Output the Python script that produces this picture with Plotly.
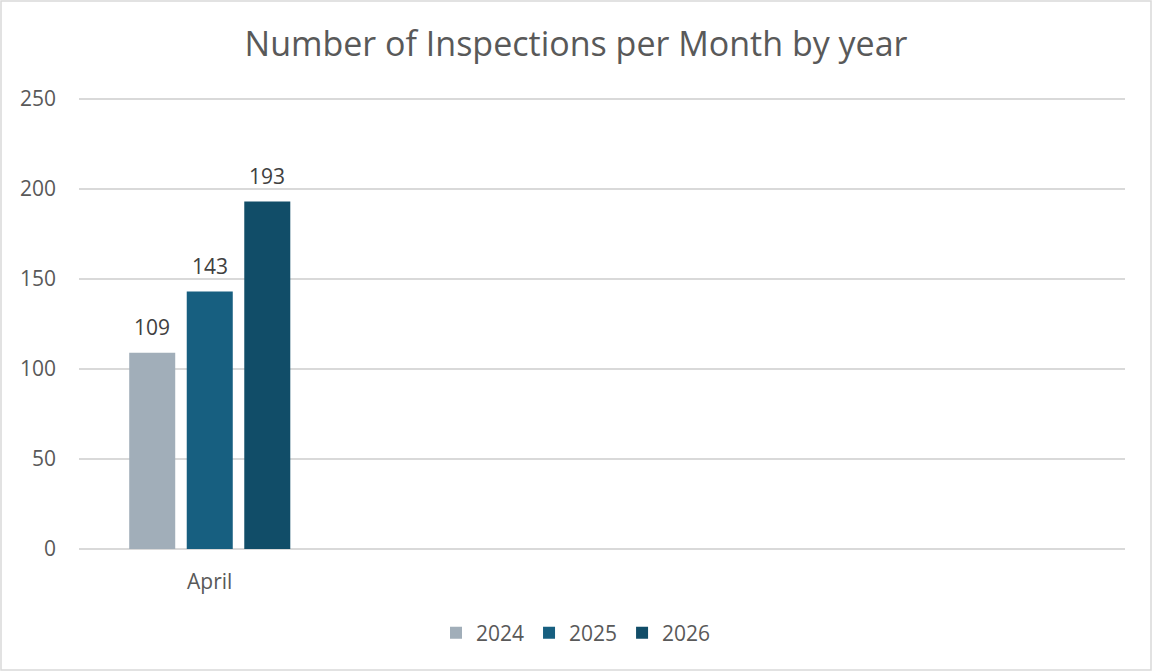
import plotly.graph_objects as go

categories = ["April"]
years = ["2024", "2025", "2026"]
values_2024 = [109]
values_2025 = [143]
values_2026 = [193]
colors = ["#A1AEB9", "#175F80", "#114D68"]
y_ticks = [0, 50, 100, 150, 200, 250]

FONT = "Open Sans, Roboto, DejaVu Sans, sans-serif"

W, H = 1152, 671
l, r, t, b = 79, 27, 97, 122
pw, ph = W - l - r, H - t - b
ymax = 250 + 2 / 1.8
slot_px = 57.5

fig = go.Figure()
annotations = []
for i, (name, vals, col) in enumerate(zip(years, [values_2024, values_2025, values_2026], colors)):
    fig.add_trace(go.Bar(
        x=categories, y=vals, name=name,
        marker=dict(color=col, line=dict(width=0)),
    ))
    for c, v in zip(categories, vals):
        annotations.append(dict(
            x=c, y=v, xref="x", yref="y", text=str(v), showarrow=False,
            xshift=(i - 1) * slot_px, yshift=26, yanchor="middle",
            font=dict(size=21, color="#404040", family=FONT)))

fig.update_layout(
    width=W, height=H,
    margin=dict(l=l, r=r, t=t, b=b),
    paper_bgcolor="white", plot_bgcolor="white",
    barmode="group", bargap=0.34, bargroupgap=0.2,
    title=dict(text="Number of Inspections per Month by year",
               x=0.5, xanchor="center", y=1 - 44 / H, yanchor="middle",
               font=dict(size=34, color="#595959", family=FONT)),
    xaxis=dict(type="category", range=[-0.5, 3.5], showgrid=False,
               showline=False, ticks="", zeroline=False, ticklabelstandoff=18,
               tickfont=dict(size=21, color="#595959", family=FONT)),
    yaxis=dict(range=[0, ymax], tickvals=y_ticks, showgrid=True,
               gridcolor="#D9D9D9", gridwidth=1.5, zeroline=True,
               zerolinecolor="#D9D9D9", zerolinewidth=1.5,
               showline=False, ticks="", ticklabelstandoff=22,
               tickfont=dict(size=21, color="#595959", family=FONT)),
    legend=dict(orientation="h", x=0.5 - 26 / pw, xanchor="center",
                y=(H - b - 633) / ph, yanchor="middle",
                font=dict(size=21, color="#595959", family=FONT),
                itemwidth=30, tracegroupgap=0),
    showlegend=True,
    annotations=annotations,
    shapes=[dict(type="rect", xref="paper", yref="paper",
                 x0=(1 - l) / pw, x1=(1151 - l) / pw,
                 y0=(H - b - 670) / ph, y1=(H - b - 1) / ph,
                 line=dict(color="#D9D9D9", width=1.5), fillcolor="rgba(0,0,0,0)",
                 layer="below")],
)

fig.write_html("out.html")
